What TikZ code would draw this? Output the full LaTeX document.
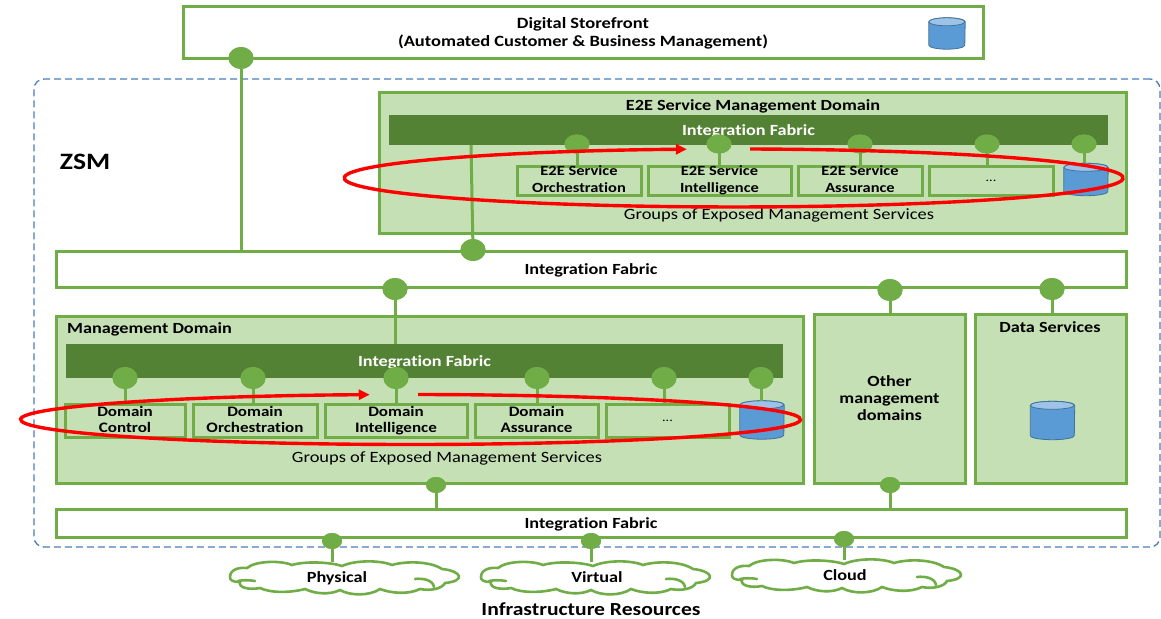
\documentclass[tikz,border=0pt]{standalone}
\usepackage{fontspec}
\setmainfont{Carlito}[FakeStretch=1.175,Ligatures=NoCommon]
\usetikzlibrary{shapes.geometric,arrows.meta}
\definecolor{gl}{HTML}{70AD47}
\definecolor{gf}{HTML}{C5E0B4}
\definecolor{gd}{HTML}{548235}
\definecolor{bl}{HTML}{5B9BD5}
\definecolor{bt}{HTML}{9DC3E6}
\definecolor{bb}{HTML}{41719C}
\definecolor{dsh}{HTML}{4A7EBB}
\definecolor{rd}{HTML}{FF0000}
\newcommand{\lowfill}{\vphantom{gy}}
\newcommand{\cloudshape}[2]{%
\begin{scope}[shift={(#1,#2)}]
\draw[curlcloud,fill=white] (0,15) .. controls (0,8) and (8,5) .. (17,6)
 .. controls (25,-1) and (50,-2) .. (62,3)
 .. controls (75,-1) and (100,0) .. (112,4)
 .. controls (125,-2) and (150,-2) .. (162,3)
 .. controls (175,-1) and (200,-1) .. (212,7)
 .. controls (232,9) and (236,19) .. (215,21)
 .. controls (212,27) and (200,29) .. (190,27)
 .. controls (178,33) and (160,31) .. (150,27)
 .. controls (140,34) and (120,34) .. (110,28)
 .. controls (100,33) and (85,32) .. (75,27)
 .. controls (60,31) and (40,31) .. (30,26)
 .. controls (20,28) and (8,26) .. (10,20)
 .. controls (2,20) and (0,18) .. (0,15) -- cycle;
\draw[curlcloud] (8,19) .. controls (12,18) and (20,18) .. (25,19);
\draw[curlcloud] (185,17) .. controls (193,16) and (203,18) .. (204,25);
\end{scope}}
% name, centre x, centre y, width, height
\newcommand{\dbshape}[5]{%
\node[dbbox,minimum width=#4pt,minimum height=#5pt] (#1) at (#2,#3) {};
\draw[dbline,fill=bl] ([yshift=-4pt]#1.north west) -- ([yshift=4pt]#1.south west)
  arc[start angle=180,end angle=360,x radius=#4pt/2,y radius=4pt]
  -- ([yshift=-4pt]#1.north east)
  arc[start angle=0,end angle=180,x radius=#4pt/2,y radius=4pt] -- cycle;
\draw[dbline,fill=bt] ([yshift=-4pt]#1.north west)
  arc[start angle=180,end angle=540,x radius=#4pt/2,y radius=4pt];
}
\tikzset{
 box/.style={draw=gl,line width=3pt,inner sep=0pt,align=center,font=\fontsize{15.5}{17}\selectfont\bfseries},
 plainbox/.style={box,fill=white},
 panel/.style={box,fill=gf},
 inner/.style={box,fill=gf,line width=3pt,font=\fontsize{14.5}{16.5}\selectfont\bfseries},
 innere/.style={inner,font=\fontsize{14}{16.5}\selectfont\bfseries},
 bar/.style={fill=gd,inner sep=0pt,text=white,align=center,text depth=0pt,font=\fontsize{15.5}{17}\selectfont\bfseries},
 one/.style={text depth=0pt},
 lab/.style={inner sep=0pt,align=center,text depth=0pt,font=\fontsize{15.5}{17}\selectfont\bfseries},
 reg/.style={inner sep=0pt,text depth=0pt,font=\fontsize{15.7}{17}\selectfont},
 port/.style={shape=ellipse,fill=gl,inner sep=0pt,minimum width=25pt,minimum height=22pt},
 midport/.style={port,minimum height=19pt},
 sport/.style={shape=ellipse,fill=gl,inner sep=0pt,minimum width=20pt,minimum height=16pt},
 link/.style={draw=gl,line width=3pt},
 dbbox/.style={inner sep=0pt},
 dbline/.style={draw=bb,line width=0.8pt},
 loop/.style={draw=rd,line width=3.4pt},
 anchorbox/.style={inner sep=0pt,minimum width=230pt,minimum height=32pt},
 curlcloud/.style={draw=gl,line width=2.6pt,line cap=round}
}
\begin{document}
\begin{tikzpicture}[x=1pt,y=-1pt]
\useasboundingbox (0,0) rectangle (1161,618);
% outer
\node[draw=dsh,dash pattern=on 7pt off 4pt,line width=1.3pt,rounded corners=10pt,minimum width=1126pt,minimum height=468pt,inner sep=0pt] (zsm) at (597,313) {};
\node[lab,font=\fontsize{23.5}{26}\selectfont\bfseries] (zsmt) at (85,162) {ZSM};
% storefront
\node[plainbox,minimum width=800pt,minimum height=52pt,font=\fontsize{15.7}{18}\selectfont\bfseries] (store) at (583,33) {Digital Storefront\\(Automated Customer \& Business Management)};
\dbshape{storedb}{947}{33.5}{36}{31}
% E2E domain
\node[panel,minimum width=747pt,minimum height=141pt] (e2e) at (752.5,162.5) {};
\node[lab] (e2et) at (753,105) {E2E Service Management Domain};
\node[bar,minimum width=719pt,minimum height=30pt] (e2ebar) at (748.5,130) {Integration Fabric};
\node[innere,minimum width=124pt,minimum height=29pt] (e2ea) at (579,180.5) {E2E Service\\Orchestration\lowfill};
\node[innere,minimum width=143pt,minimum height=29pt] (e2eb) at (719.5,180.5) {E2E Service\\Intelligence\lowfill};
\node[innere,minimum width=124pt,minimum height=29pt] (e2ec) at (860,180.5) {E2E Service\\Assurance\lowfill};
\node[inner,minimum width=124pt,minimum height=29pt,font=\fontsize{12}{14}\selectfont] (e2ed) at (991,180.5) {...};
\dbshape{e2edb}{1086}{179.5}{44}{32}
\node[reg] (e2eg) at (779,214) {Groups of Exposed Management Services};
% middle fabric
\node[plainbox,one,minimum width=1070pt,minimum height=36pt] (fabm) at (591,269) {Integration Fabric};
% management domain
\node[panel,minimum width=747pt,minimum height=167pt] (mg) at (429.5,399.5) {};
\node[lab,anchor=west] (mgt) at (67,328) {Management Domain};
\node[bar,minimum width=717pt,minimum height=34pt] (mgbar) at (424.5,361) {Integration Fabric};
\node[inner,minimum width=120pt,minimum height=33pt] (ma) at (125,420.5) {Domain\\Control\lowfill};
\node[inner,minimum width=124pt,minimum height=33pt] (mb) at (255,420.5) {Domain\\Orchestration\lowfill};
\node[inner,minimum width=142pt,minimum height=33pt] (mc) at (396,420.5) {Domain\\Intelligence\lowfill};
\node[inner,minimum width=123pt,minimum height=33pt] (md) at (536.5,420.5) {Domain\\Assurance\lowfill};
\node[inner,minimum width=123pt,minimum height=33pt,font=\fontsize{12}{14}\selectfont] (me) at (667.5,420.5) {...};
\dbshape{mdb}{762}{420}{44}{38}
\node[reg] (mgg) at (447,457) {Groups of Exposed Management Services};
% side panels
\node[panel,minimum width=151pt,minimum height=169pt] (other) at (889.5,398.5) {Other\\management\\domains};
\node[panel,minimum width=151pt,minimum height=169pt] (data) at (1050.5,398.5) {};
\node[lab] (datat) at (1050,327) {Data Services};
\dbshape{datadb}{1052.5}{420.5}{44}{38}
% bottom fabric
\node[plainbox,one,minimum width=1070pt,minimum height=28pt] (fabb) at (591,523) {Integration Fabric};
% clouds
\node[anchorbox] (c1) at (345,578) {};
\node[anchorbox] (c2) at (596,578) {};
\node[anchorbox] (c3) at (847,576) {};
% ports
\node[port] (p0) at (241,58) {};
\node[midport] (pa1) at (577,144) {};
\node[midport] (pa2) at (719,144) {};
\node[midport] (pa3) at (860,144) {};
\node[midport] (pa4) at (987,144) {};
\node[midport] (pa5) at (1084,144) {};
\node[port] (pf) at (473,250) {};
\node[port] (pm) at (395,289) {};
\node[port] (po) at (890,290) {};
\node[port] (pd) at (1052,289) {};
\node[port] (pb1) at (125,378) {};
\node[port] (pb2) at (253,378) {};
\node[port] (pb3) at (396,378) {};
\node[port] (pb4) at (537,378) {};
\node[port] (pb5) at (664,378) {};
\node[port] (pb6) at (761,378) {};
\node[sport] (q1) at (436,485) {};
\node[sport] (q2) at (890,485) {};
\node[sport] (q3) at (332,541) {};
\node[sport] (q4) at (591,541) {};
\node[sport] (q5) at (844,539) {};
\coordinate (e2efoot) at (471,145);
% connectors
\draw[link] (p0.center) -- (p0 |- fabm.north);
\draw[link] (e2efoot) -- (pf.center);
\draw[link] (pa1.center) -- (pa1 |- e2ea.north);
\draw[link] (pa2.center) -- (pa2 |- e2eb.north);
\draw[link] (pa3.center) -- (pa3 |- e2ec.north);
\draw[link] (pa4.center) -- (pa4 |- e2ed.north);
\draw[link] (pa5.center) -- (pa5 |- e2edb.north);
\draw[link] (pm.center) -- (pm |- mgbar.north);
\draw[link] (po.center) -- (po |- other.north);
\draw[link] (pd.center) -- (pd |- data.north);
\draw[link] (pb1.center) -- (pb1 |- ma.north);
\draw[link] (pb2.center) -- (pb2 |- mb.north);
\draw[link] (pb3.center) -- (pb3 |- mc.north);
\draw[link] (pb4.center) -- (pb4 |- md.north);
\draw[link] (pb5.center) -- (pb5 |- me.north);
\draw[link] (pb6.center) -- (pb6 |- mdb.north);
\draw[link] (q1.center) -- (q1 |- fabb.north);
\draw[link] (q2.center) -- (q2 |- fabb.north);
\draw[link] (q3.center) -- (q3 |- c1.north);
\draw[link] (q4.center) -- (q4 |- c2.north);
\draw[link] (q5.center) -- (q5 |- c3.north);
% discs above connectors
\foreach \n in {p0,pf,pm,po,pd,pb1,pb2,pb3,pb4,pb5,pb6}{\node[port] at (\n) {};}
\foreach \n in {pa1,pa2,pa3,pa4,pa5}{\node[midport] at (\n) {};}
\foreach \n in {q1,q2,q3,q4,q5}{\node[sport] at (\n) {};}
% clouds
\cloudshape{230}{562}
\cloudshape{481}{562}
\cloudshape{732}{560}
\node[lab] (c1t) at (337,577) {Physical};
\node[lab] (c2t) at (597,577) {Virtual};
\node[lab] (c3t) at (845,575) {Cloud};
\node[lab,font=\fontsize{18.4}{20}\selectfont\bfseries] (infra) at (591,609) {Infrastructure Resources};
% loops
\draw[loop,-{Triangle[length=11pt,width=10pt]}] (750,149) arc[start angle=87.6,end angle=-263.1,x radius=389.5pt,y radius=29pt];
\draw[loop,-{Triangle[length=11pt,width=10pt]}] (418,394.5) arc[start angle=88.9,end angle=-264,x radius=390pt,y radius=25pt];
\end{tikzpicture}
\end{document}
